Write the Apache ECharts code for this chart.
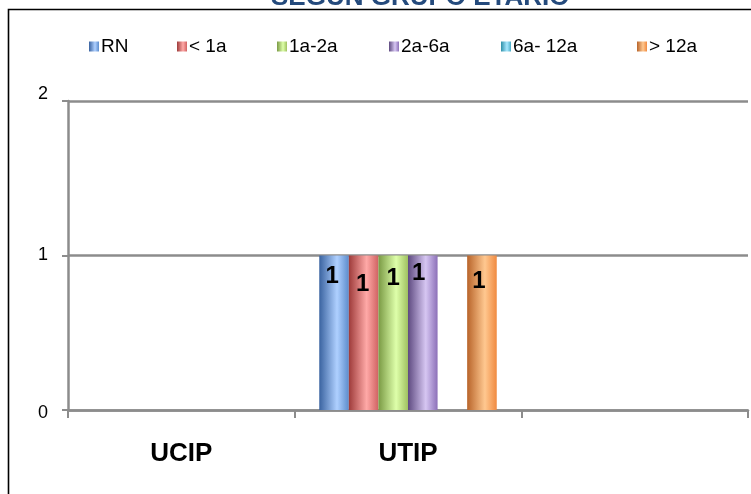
<!DOCTYPE html>
<html><head><meta charset="utf-8">
<script src="https://cdn.jsdelivr.net/npm/echarts@6/dist/echarts.min.js"></script>
<style>html,body{margin:0;padding:0;background:#fff}#c{width:751px;height:494px}</style>
</head><body><div id="c"></div>
<script>
const categories = ['UCIP', 'UTIP', ''];
const seriesNames = ['RN', '< 1a', '1a-2a', '2a-6a', '6a- 12a', '> 12a'];
const rn = [null, 1, null];
const menos1a = [null, 1, null];
const a1a2 = [null, 1, null];
const a2a6 = [null, 1, null];
const a6a12 = [null, null, null];
const mas12a = [null, 1, null];
const yTicks = [0, 1, 2];
const title = 'SEGÚN GRUPO ETARIO';

const values = [rn, menos1a, a1a2, a2a6, a6a12, mas12a];
const grads = [
  ['#3A63A0', '#AFD0FF', '#5C8CCC'],
  ['#9E3B3A', '#FFA9A7', '#D06262'],
  ['#7A9A44', '#DEFFAA', '#9FC160'],
  ['#5E4A80', '#D6C6F2', '#8C70B8'],
  ['#2F90A8', '#A8E8FF', '#4BACC6'],
  ['#B8642A', '#FFC890', '#F08A40']
];
const labelOffsets = [[-2, 4], [-1, 12], [0, 6], [-4, 1], [0, 0], [-3, 9]];
const legendLefts = [84, 172, 272, 384, 496, 632];

function grad(c) {
  return new echarts.graphic.LinearGradient(0, 0, 1, 0, [
    {offset: 0, color: c[0]}, {offset: 0.6, color: c[1]}, {offset: 1, color: c[2]}
  ]);
}

const chart = echarts.init(document.getElementById('c'));
chart.setOption({
  animation: false,
  backgroundColor: '#fff',
  title: {
    text: title, left: 266, top: -20,
    textStyle: {fontFamily: 'Liberation Sans', fontWeight: 'bold', fontSize: 26, color: '#244A7C'}
  },
  graphic: [{
    type: 'rect', silent: true, z: -1,
    shape: {x: 8.5, y: 9.5, width: 900, height: 700},
    style: {fill: 'none', stroke: '#000', lineWidth: 1.6}
  }],
  legend: seriesNames.map((n, i) => ({
    data: [{name: n, icon: 'rect'}], left: legendLefts[i], top: 32,
    itemWidth: 10, itemHeight: 10, itemGap: 0,
    textStyle: {fontFamily: 'Liberation Sans', fontSize: 19, color: '#000', padding: [0, 0, 0, -3]}
  })),
  grid: {left: 68, right: 3, top: 101, bottom: 84},
  xAxis: {
    type: 'category', data: categories,
    axisLine: {lineStyle: {color: '#8C8C8C', width: 2.5}},
    axisTick: {show: true, length: 8, lineStyle: {color: '#8C8C8C', width: 2}},
    axisLabel: {margin: 31, fontFamily: 'Liberation Sans', fontWeight: 'bold', fontSize: 26, color: '#000'}
  },
  yAxis: {
    type: 'value', min: yTicks[0], max: yTicks[yTicks.length - 1], interval: 1,
    axisLine: {show: true, lineStyle: {color: '#8C8C8C', width: 2.5}},
    axisTick: {show: true, length: 6, lineStyle: {color: '#8C8C8C', width: 2}},
    splitLine: {lineStyle: {color: '#8C8C8C', width: 2.5}},
    axisLabel: {
      margin: 20, fontFamily: 'Liberation Sans', fontSize: 18, color: '#000',
      formatter: v => v === 2 ? '{t|' + v + '}' : (v === 0 ? '{b|' + v + '}' : '' + v),
      rich: {
        t: {fontFamily: 'Liberation Sans', fontSize: 18, color: '#000', padding: [0, 0, 14, 0]},
        b: {fontFamily: 'Liberation Sans', fontSize: 18, color: '#000', padding: [6, 0, 0, 0]}
      }
    }
  },
  series: seriesNames.map((n, i) => ({
    name: n, type: 'bar', data: values[i],
    barGap: 0, barCategoryGap: '21.7%',
    itemStyle: {color: grad(grads[i])},
    label: {
      show: true, position: 'insideTop', offset: labelOffsets[i],
      fontFamily: 'Liberation Sans', fontWeight: 'bold', fontSize: 24, color: '#000'
    }
  }))
});
</script></body></html>
